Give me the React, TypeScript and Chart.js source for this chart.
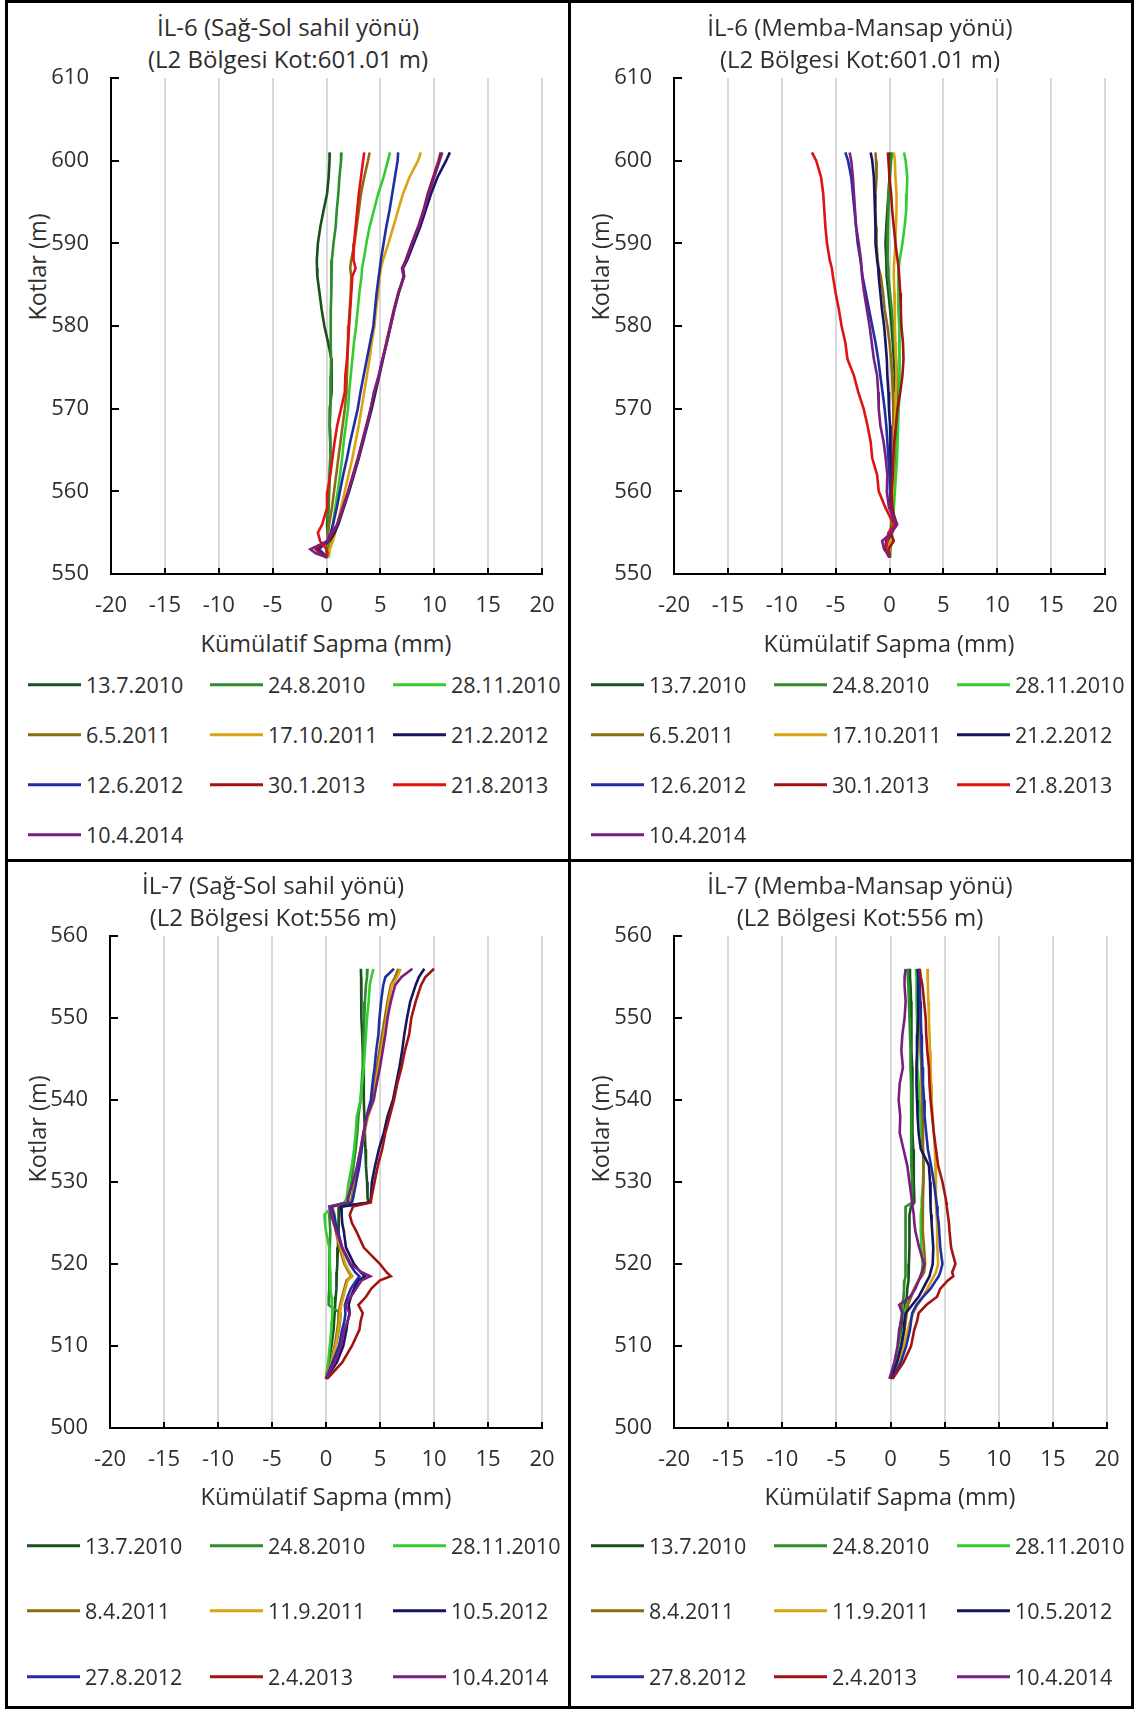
import React, { useEffect, useRef } from 'react';
import { Chart, registerables } from 'chart.js';

Chart.register(...registerables);

const FONT = '"Open Sans", "DejaVu Sans", sans-serif';
const TEXT = '#2e2e2e';

// ---------- axis ticks ----------
const X_TICKS = [-20, -15, -10, -5, 0, 5, 10, 15, 20];
const Y_TICKS_IL6 = [550, 560, 570, 580, 590, 600, 610];
const Y_TICKS_IL7 = [500, 510, 520, 530, 540, 550, 560];

// ---------- colours ----------
const C_DKGREEN = '#1b4f1b';
const C_GREEN = '#2a8f2a';
const C_LTGREEN = '#33cc33';
const C_BROWN = '#8b6a12';
const C_GOLD = '#d9a312';
const C_NAVY = '#151560';
const C_BLUE = '#1f2fa3';
const C_DKRED = '#a01414';
const C_RED = '#e01212';
const C_PURPLE = '#7a1e82';

// ---------- IL-6 ----------
const IL6_ELEV = [601, 600, 598, 596, 594, 592, 590, 588, 587, 586, 584, 582, 580, 578, 576, 574, 572, 570, 568, 566, 564, 562, 560, 558, 556, 555, 554, 553, 552.5, 552];
const IL6_DATES = ['13.7.2010', '24.8.2010', '28.11.2010', '6.5.2011', '17.10.2011', '21.2.2012', '12.6.2012', '30.1.2013', '21.8.2013', '10.4.2014'];
const IL6_COLORS = [C_DKGREEN, C_GREEN, C_LTGREEN, C_BROWN, C_GOLD, C_NAVY, C_BLUE, C_DKRED, C_RED, C_PURPLE];

// Sağ-Sol sahil yönü (mm)
const ss6_13_7_2010 = [0.3, 0.28, 0.2, 0.05, -0.27, -0.57, -0.8, -0.9, -0.88, -0.85, -0.65, -0.45, -0.2, 0.15, 0.45, 0.5, 0.45, 0.3, 0.3, 0.35, 0.35, 0.3, 0.22, 0.15, 0.05, 0.1, 0.15, 0.05, 0, 0];
const ss6_24_8_2010 = [1.4, 1.35, 1.2, 1.1, 0.95, 0.85, 0.65, 0.5, 0.48, 0.45, 0.42, 0.4, 0.38, 0.4, 0.42, 0.4, 0.38, 0.35, 0.3, 0.35, 0.35, 0.3, 0.25, 0.2, 0.15, 0.1, 0.3, 0.1, 0.05, 0.05];
const ss6_28_11_2010 = [5.9, 5.7, 5.3, 4.8, 4.4, 4.0, 3.7, 3.45, 3.3, 3.25, 3.05, 2.9, 2.75, 2.55, 2.4, 2.25, 2.1, 2.0, 1.8, 1.6, 1.45, 1.25, 1.05, 0.8, 0.6, 0.5, 0.4, 0.3, 0.25, 0.2];
const ss6_6_5_2011 = [4.0, 3.85, 3.5, 3.2, 3.0, 2.8, 2.6, 2.3, 2.2, 2.3, 2.25, 2.15, 2.05, 2.0, 1.95, 1.9, 1.85, 1.7, 1.5, 1.3, 1.1, 0.9, 0.7, 0.5, 0.25, 0.15, 0.1, 0, 0, 0];
const ss6_17_10_2011 = [8.75, 8.5, 7.7, 7.1, 6.65, 6.2, 5.75, 5.25, 5.05, 4.95, 4.8, 4.6, 4.45, 4.2, 4.0, 3.75, 3.5, 3.25, 3.0, 2.7, 2.4, 2.05, 1.7, 1.35, 1.0, 0.8, 0.6, 0.3, 0.2, 0.1];
const ss6_21_2_2012 = [11.45, 11.1, 10.3, 9.7, 9.2, 8.7, 8.1, 7.5, 7.1, 7.2, 6.7, 6.3, 5.95, 5.6, 5.25, 4.9, 4.55, 4.2, 3.8, 3.4, 3.0, 2.55, 2.1, 1.6, 1.1, 0.75, 0.3, -0.9, -0.5, 0];
const ss6_12_6_2012 = [6.65, 6.6, 6.35, 6.1, 5.85, 5.55, 5.3, 5.05, 4.95, 4.85, 4.65, 4.5, 4.35, 4.05, 3.75, 3.45, 3.15, 2.9, 2.55, 2.2, 1.9, 1.55, 1.25, 0.95, 0.6, 0.4, 0.1, -0.7, -0.3, 0];
const ss6_30_1_2013 = [10.6, 10.4, 9.9, 9.4, 9.0, 8.5, 7.9, 7.35, 7.05, 7.2, 6.65, 6.25, 5.9, 5.55, 5.2, 4.85, 4.45, 4.1, 3.7, 3.3, 2.9, 2.45, 2.0, 1.5, 1.0, 0.6, 0.2, -1.0, -0.6, 0];
const ss6_21_8_2013 = [3.5, 3.4, 3.2, 3.0, 2.85, 2.7, 2.55, 2.5, 2.7, 2.4, 2.3, 2.2, 2.1, 2.0, 1.9, 1.75, 1.7, 1.35, 1.0, 0.75, 0.55, 0.35, 0.1, 0.05, -0.4, -0.8, -0.6, 0.0, 0.1, 0];
const ss6_10_4_2014 = [10.75, 10.5, 10.0, 9.5, 9.05, 8.55, 7.95, 7.4, 7.0, 7.15, 6.7, 6.3, 5.95, 5.6, 5.2, 4.85, 4.4, 4.1, 3.75, 3.35, 2.95, 2.5, 2.05, 1.55, 1.0, 0.5, 0.1, -1.5, -1.0, 0.1];

// Memba-Mansap yönü (mm)
const mm6_13_7_2010 = [0.1, 0.05, 0, -0.1, -0.2, -0.3, -0.37, -0.3, -0.28, -0.25, -0.1, 0.05, 0.2, 0.3, 0.4, 0.5, 0.55, 0.55, 0.5, 0.45, 0.38, 0.33, 0.3, 0.25, 0.2, 0.15, 0.1, 0.05, 0, 0];
const mm6_24_8_2010 = [0.25, 0.15, 0.05, -0.05, -0.1, -0.15, -0.2, -0.15, -0.12, -0.1, 0.05, 0.2, 0.35, 0.45, 0.6, 0.7, 0.75, 0.75, 0.65, 0.6, 0.5, 0.45, 0.4, 0.3, 0.2, 0.15, 0.1, 0.05, 0, 0];
const mm6_28_11_2010 = [1.35, 1.5, 1.65, 1.6, 1.55, 1.4, 1.2, 0.95, 0.85, 0.8, 0.8, 0.85, 0.9, 0.95, 0.95, 0.95, 0.9, 0.85, 0.8, 0.75, 0.7, 0.6, 0.5, 0.4, 0.3, 0.25, 0.2, 0.1, 0.1, 0.05];
const mm6_6_5_2011 = [-1.3, -1.25, -1.2, -1.3, -1.3, -1.25, -1.2, -1.1, -1.0, -0.8, -0.6, -0.45, -0.2, 0, 0.15, 0.25, 0.3, 0.35, 0.35, 0.4, 0.35, 0.3, 0.3, 0.3, 0.5, 0.2, 0.1, 0, 0, 0];
const mm6_17_10_2011 = [0.4, 0.5, 0.55, 0.65, 0.65, 0.6, 0.55, 0.45, 0.4, 0.4, 0.45, 0.5, 0.5, 0.55, 0.6, 0.65, 0.6, 0.55, 0.5, 0.45, 0.4, 0.35, 0.3, 0.25, 0.4, 0.2, 0.1, 0, 0, 0];
const mm6_21_2_2012 = [-1.75, -1.6, -1.45, -1.4, -1.35, -1.3, -1.3, -1.15, -1.05, -1.0, -0.85, -0.7, -0.5, -0.37, -0.25, -0.2, -0.1, -0.05, 0.05, 0.1, 0.1, 0.1, 0.2, 0.25, 0.5, 0.1, -0.3, -0.4, -0.2, 0];
const mm6_12_6_2012 = [-4.1, -3.85, -3.55, -3.4, -3.25, -3.1, -2.95, -2.7, -2.6, -2.5, -2.2, -1.9, -1.6, -1.3, -1.05, -0.85, -0.65, -0.45, -0.3, -0.2, -0.1, 0, 0.05, 0.1, 0.5, 0.2, -0.2, -0.4, -0.2, 0];
const mm6_30_1_2013 = [-0.15, -0.1, 0, 0.15, 0.25, 0.4, 0.55, 0.75, 0.85, 0.9, 1.0, 1.05, 1.1, 1.25, 1.3, 1.2, 1.0, 0.75, 0.6, 0.45, 0.35, 0.3, 0.2, 0.2, 0.7, 0.1, 0.4, -0.1, 0, 0];
const mm6_21_8_2013 = [-7.2, -6.8, -6.35, -6.15, -6.05, -5.95, -5.8, -5.55, -5.35, -5.25, -5.0, -4.7, -4.45, -4.1, -3.9, -3.3, -2.9, -2.4, -2.05, -1.75, -1.6, -1.15, -1.0, -0.37, 0.4, -0.1, -0.2, -0.3, -0.1, 0];
const mm6_10_4_2014 = [-3.7, -3.55, -3.4, -3.3, -3.2, -3.1, -2.85, -2.65, -2.6, -2.55, -2.35, -2.1, -1.85, -1.65, -1.45, -1.15, -1.05, -1.0, -0.85, -0.55, -0.35, -0.2, -0.25, -0.05, 0.7, 0.2, -0.68, -0.5, -0.2, 0];

// ---------- IL-7 ----------
const IL7_ELEV = [556, 555, 554, 552, 550, 548, 546, 544, 542, 540, 538, 536, 534, 532, 530, 528, 527.5, 527, 526, 525, 524, 522, 520, 519, 518.5, 518, 517, 516, 515, 514, 513, 512, 510, 508, 506];
const IL7_DATES = ['13.7.2010', '24.8.2010', '28.11.2010', '8.4.2011', '11.9.2011', '10.5.2012', '27.8.2012', '2.4.2013', '10.4.2014'];
const IL7_COLORS = [C_DKGREEN, C_GREEN, C_LTGREEN, C_BROWN, C_GOLD, C_NAVY, C_BLUE, C_DKRED, C_PURPLE];

// Sağ-Sol sahil yönü (mm)
const ss7_13_7_2010 = [3.23, 3.25, 3.25, 3.28, 3.3, 3.35, 3.4, 3.45, 3.5, 3.5, 3.55, 3.6, 3.65, 3.7, 3.8, 3.85, 3.95, 1.2, 1.2, 1.15, 1.15, 1.1, 1.05, 1.0, 1.0, 0.95, 0.95, 0.9, 0.85, 0.8, 0.75, 0.7, 0.5, 0.25, 0];
const ss7_24_8_2010 = [3.85, 3.8, 3.7, 3.6, 3.55, 3.5, 3.45, 3.4, 3.3, 3.2, 3.0, 2.9, 2.75, 2.55, 2.35, 2.1, 1.8, 0.4, 0.3, 0.35, 0.4, 0.35, 0.3, 0.3, 0.3, 0.3, 0.3, 0.25, 0.25, 1.35, 1.3, 1.2, 0.9, 0.5, 0];
const ss7_28_11_2010 = [4.4, 4.2, 4.05, 3.95, 3.8, 3.7, 3.6, 3.5, 3.35, 3.2, 2.85, 2.75, 2.6, 2.4, 2.1, 1.9, 1.7, 0.6, -0.15, -0.1, 0.0, 0.3, 0.35, 0.4, 0.4, 0.4, 0.45, 0.5, 0.55, 0.6, 0.55, 0.5, 0.35, 0.2, 0];
const ss7_8_4_2011 = [6.7, 6.4, 6.0, 5.7, 5.45, 5.2, 4.95, 4.7, 4.5, 4.3, 3.8, 3.45, 3.2, 2.9, 2.6, 2.4, 2.2, 0.55, 0.75, 0.8, 0.9, 1.25, 1.7, 2.1, 2.35, 1.9, 1.7, 1.5, 1.3, 1.2, 1.15, 1.05, 0.8, 0.45, 0];
const ss7_11_9_2011 = [6.9, 6.6, 6.1, 5.8, 5.6, 5.35, 5.1, 4.85, 4.6, 4.45, 3.9, 3.55, 3.3, 3.0, 2.7, 2.5, 2.3, 0.6, 0.8, 0.85, 0.95, 1.35, 1.8, 2.2, 2.45, 2.0, 1.8, 1.6, 1.4, 1.3, 1.25, 1.15, 0.9, 0.5, 0];
const ss7_10_5_2012 = [9.1, 8.6, 8.3, 7.8, 7.5, 7.25, 7.05, 6.8, 6.5, 6.2, 5.7, 5.35, 4.9, 4.55, 4.25, 4.15, 4.05, 1.4, 1.45, 1.5, 1.65, 1.85, 2.6, 3.2, 3.6, 3.0, 2.6, 2.3, 2.1, 2.2, 2.0, 1.9, 1.6, 1.0, 0];
const ss7_27_8_2012 = [6.3, 5.5, 5.3, 5.1, 4.95, 4.85, 4.65, 4.5, 4.3, 4.15, 3.75, 3.5, 3.3, 3.1, 2.8, 2.5, 2.4, 0.5, 0.75, 0.9, 1.1, 1.5, 2.2, 2.7, 3.1, 2.8, 2.3, 2.0, 1.75, 1.8, 1.7, 1.5, 1.2, 0.6, 0];
const ss7_2_4_2013 = [10.0, 9.2, 8.8, 8.3, 7.9, 7.7, 7.3, 7.0, 6.6, 6.3, 5.9, 5.5, 5.2, 4.8, 4.5, 4.2, 4.15, 2.5, 2.2, 2.4, 2.8, 3.5, 5.0, 5.6, 6.0, 5.0, 4.2, 3.7, 3.0, 3.4, 3.2, 3.1, 2.4, 1.5, 0.1];
const ss7_10_4_2014 = [8.0, 7.0, 6.4, 6.0, 5.7, 5.5, 5.25, 5.0, 4.7, 4.4, 3.8, 3.5, 3.2, 2.9, 2.5, 2.0, 2.05, 0.3, 0.5, 0.7, 0.95, 1.5, 2.3, 3.3, 4.1, 3.3, 2.8, 2.3, 1.8, 2.2, 2.0, 1.7, 1.4, 0.8, 0];

// Memba-Mansap yönü (mm)
const mm7_13_7_2010 = [1.8, 1.8, 1.85, 1.9, 1.9, 1.95, 1.95, 2.0, 2.0, 2.0, 2.05, 2.05, 2.1, 2.15, 2.15, 2.2, 2.2, 1.9, 1.75, 1.75, 1.75, 1.75, 1.7, 1.7, 1.65, 1.65, 1.55, 1.5, 1.35, 1.25, 1.15, 1.05, 0.8, 0.5, 0];
const mm7_24_8_2010 = [1.55, 1.6, 1.65, 1.7, 1.75, 1.8, 1.85, 1.85, 1.9, 1.9, 1.9, 1.9, 1.95, 1.95, 2.0, 2.0, 2.0, 1.4, 1.4, 1.4, 1.4, 1.4, 1.4, 1.35, 1.35, 1.3, 1.25, 1.2, 1.1, 1.05, 0.95, 0.9, 0.7, 0.4, 0];
const mm7_28_11_2010 = [2.35, 2.4, 2.4, 2.4, 2.45, 2.45, 2.5, 2.5, 2.6, 2.65, 2.75, 2.85, 3.0, 3.05, 3.0, 2.9, 2.9, 2.85, 2.8, 2.8, 2.8, 2.85, 2.95, 2.9, 2.8, 2.6, 2.2, 1.9, 1.5, 1.3, 1.25, 1.2, 0.9, 0.55, 0];
const mm7_8_4_2011 = [2.6, 2.6, 2.65, 2.7, 2.75, 2.75, 2.8, 2.85, 2.9, 2.9, 2.95, 3.0, 3.0, 3.05, 3.05, 3.0, 3.0, 2.95, 2.95, 3.0, 3.0, 3.1, 3.2, 3.1, 2.9, 2.6, 2.2, 1.9, 1.6, 1.5, 1.4, 1.3, 1.0, 0.6, 0];
const mm7_11_9_2011 = [3.4, 3.45, 3.45, 3.5, 3.55, 3.6, 3.65, 3.7, 3.75, 3.8, 3.9, 4.0, 4.1, 4.15, 4.2, 4.2, 4.2, 4.2, 4.25, 4.3, 4.3, 4.35, 4.4, 4.2, 4.0, 3.8, 3.4, 3.0, 2.5, 2.1, 1.8, 1.6, 1.2, 0.75, 0];
const mm7_10_5_2012 = [2.5, 2.55, 2.55, 2.55, 2.55, 2.5, 2.45, 2.4, 2.4, 2.45, 2.5, 2.6, 2.8, 3.55, 3.65, 3.7, 3.7, 3.7, 3.75, 3.8, 3.85, 3.95, 3.9, 3.7, 3.6, 3.4, 3.0, 2.6, 2.0, 1.4, 1.3, 1.25, 1.0, 0.6, 0];
const mm7_27_8_2012 = [2.6, 2.65, 2.7, 2.75, 2.8, 2.85, 2.9, 2.95, 3.0, 3.1, 3.15, 3.3, 3.45, 3.75, 4.0, 4.2, 4.25, 4.3, 4.35, 4.45, 4.5, 4.6, 4.8, 4.6, 4.45, 4.2, 3.7, 3.0, 2.4, 2.0, 1.9, 1.8, 1.45, 0.95, 0.15];
const mm7_2_4_2013 = [2.7, 2.8, 2.95, 3.1, 3.25, 3.3, 3.4, 3.55, 3.6, 3.7, 3.85, 4.0, 4.2, 4.4, 4.8, 5.1, 5.15, 5.2, 5.3, 5.4, 5.45, 5.6, 6.0, 5.7, 5.8, 5.3, 4.6, 4.3, 3.3, 2.6, 2.45, 2.2, 1.9, 1.2, 0.2];
const mm7_10_4_2014 = [1.4, 1.3, 1.3, 1.4, 1.3, 1.1, 1.0, 1.15, 0.85, 0.75, 0.9, 0.85, 1.2, 1.55, 1.75, 1.95, 2.0, 2.05, 2.15, 2.2, 2.3, 2.65, 3.1, 2.9, 2.75, 2.6, 2.3, 1.8, 0.8, 1.1, 1.0, 0.8, 0.65, 0.35, -0.1];

const IL6_SS = [ss6_13_7_2010, ss6_24_8_2010, ss6_28_11_2010, ss6_6_5_2011, ss6_17_10_2011, ss6_21_2_2012, ss6_12_6_2012, ss6_30_1_2013, ss6_21_8_2013, ss6_10_4_2014];
const IL6_MM = [mm6_13_7_2010, mm6_24_8_2010, mm6_28_11_2010, mm6_6_5_2011, mm6_17_10_2011, mm6_21_2_2012, mm6_12_6_2012, mm6_30_1_2013, mm6_21_8_2013, mm6_10_4_2014];
const IL7_SS = [ss7_13_7_2010, ss7_24_8_2010, ss7_28_11_2010, ss7_8_4_2011, ss7_11_9_2011, ss7_10_5_2012, ss7_27_8_2012, ss7_2_4_2013, ss7_10_4_2014];
const IL7_MM = [mm7_13_7_2010, mm7_24_8_2010, mm7_28_11_2010, mm7_8_4_2011, mm7_11_9_2011, mm7_10_5_2012, mm7_27_8_2012, mm7_2_4_2013, mm7_10_4_2014];

const X_TITLE = 'Kümülatif Sapma (mm)';
const Y_TITLE = 'Kotlar (m)';

// layout constants for the canvas around the plot area
const YW = 92;
const PADT = 44;
const PADR = 44;
const XH = 62;

type Rect = { l: number; t: number; r: number; b: number };

const innerTicks = {
  id: 'innerTicks',
  afterDraw(chart: any) {
    const { ctx, chartArea, scales } = chart;
    ctx.save();
    ctx.strokeStyle = '#000';
    ctx.lineWidth = 2;
    scales.x.ticks.forEach((t: any) => {
      const x = Math.round(scales.x.getPixelForValue(t.value));
      ctx.beginPath();
      ctx.moveTo(x, chartArea.bottom);
      ctx.lineTo(x, chartArea.bottom - 6);
      ctx.stroke();
    });
    scales.y.ticks.forEach((t: any) => {
      const y = Math.round(scales.y.getPixelForValue(t.value));
      ctx.beginPath();
      ctx.moveTo(chartArea.left, y);
      ctx.lineTo(chartArea.left + 8, y);
      ctx.stroke();
    });
    ctx.restore();
  },
};

function ProfileChart(props: { plot: Rect; elev: number[]; series: number[][]; dates: string[]; colors: string[]; yTicks: number[] }) {
  const ref = useRef<HTMLCanvasElement>(null);
  const { plot, elev, series, dates, colors, yTicks } = props;
  const cl = plot.l - YW;
  const ct = plot.t - PADT;
  const cw = plot.r - plot.l + YW + PADR;
  const chh = plot.b - plot.t + PADT + XH;

  useEffect(() => {
    if (!ref.current) return;
    const n = series.length;
    const chart = new Chart(ref.current, {
      type: 'scatter',
      data: {
        datasets: series.map((vals, i) => ({
          label: dates[i],
          data: vals.map((v, k) => ({ x: v, y: elev[k] })),
          showLine: true,
          borderColor: colors[i],
          backgroundColor: colors[i],
          borderWidth: 2.6,
          pointRadius: 0,
          pointHoverRadius: 0,
          tension: 0,
          fill: false,
          order: n - i,
        })),
      },
      options: {
        responsive: false,
        maintainAspectRatio: false,
        animation: false,
        events: [],
        layout: { padding: { left: 0, top: PADT, right: PADR, bottom: 0 } },
        plugins: { legend: { display: false }, tooltip: { enabled: false }, title: { display: false } },
        scales: {
          x: {
            type: 'linear',
            position: 'bottom',
            min: X_TICKS[0],
            max: X_TICKS[X_TICKS.length - 1],
            afterBuildTicks: (s: any) => {
              s.ticks = X_TICKS.map((v) => ({ value: v }));
            },
            afterFit: (s: any) => {
              s.height = XH;
            },
            grid: {
              display: true,
              drawTicks: false,
              lineWidth: 2,
              color: (c: any) => (c.tick && c.tick.value === X_TICKS[0] ? 'rgba(0,0,0,0)' : '#d9d9d9'),
            },
            border: { display: true, color: '#000', width: 2 },
            ticks: { font: { family: FONT, size: 22 }, color: TEXT, padding: 19, maxRotation: 0, autoSkip: false },
          },
          y: {
            type: 'linear',
            position: 'left',
            min: yTicks[0],
            max: yTicks[yTicks.length - 1],
            afterBuildTicks: (s: any) => {
              s.ticks = yTicks.map((v) => ({ value: v }));
            },
            afterFit: (s: any) => {
              s.width = YW;
            },
            grid: { display: false, drawTicks: false },
            border: { display: true, color: '#000', width: 2 },
            ticks: { font: { family: FONT, size: 22 }, color: TEXT, padding: 22, autoSkip: false },
          },
        },
      },
      plugins: [innerTicks],
    } as any);
    return () => chart.destroy();
  }, []);

  return (
    <canvas
      ref={ref}
      width={cw}
      height={chh}
      style={{ position: 'absolute', left: cl, top: ct, width: cw, height: chh }}
    />
  );
}

type PanelDef = {
  box: { l: number; t: number; w: number; h: number };
  plot: Rect;
  title1: string;
  title2: string;
  titleX: number;
  titleY: [number, number];
  yTitle: [number, number];
  xTitle: [number, number];
  legendCols: number[];
  legendRows: number[];
  elev: number[];
  series: number[][];
  dates: string[];
  colors: string[];
  yTicks: number[];
};

const PANELS: PanelDef[] = [
  {
    box: { l: 5, t: 0, w: 566, h: 862 },
    plot: { l: 111, t: 78, r: 542, b: 574 },
    title1: 'İL-6 (Sağ-Sol sahil yönü)',
    title2: '(L2 Bölgesi Kot:601.01 m)',
    titleX: 288,
    titleY: [27, 59],
    yTitle: [38, 267],
    xTitle: [326, 644],
    legendCols: [28, 210, 393],
    legendRows: [685, 735, 785, 835],
    elev: IL6_ELEV,
    series: IL6_SS,
    dates: IL6_DATES,
    colors: IL6_COLORS,
    yTicks: Y_TICKS_IL6,
  },
  {
    box: { l: 568, t: 0, w: 566, h: 862 },
    plot: { l: 674, t: 78, r: 1105, b: 574 },
    title1: 'İL-6 (Memba-Mansap yönü)',
    title2: '(L2 Bölgesi Kot:601.01 m)',
    titleX: 860,
    titleY: [27, 59],
    yTitle: [601, 267],
    xTitle: [889, 644],
    legendCols: [591, 774, 957],
    legendRows: [685, 735, 785, 835],
    elev: IL6_ELEV,
    series: IL6_MM,
    dates: IL6_DATES,
    colors: IL6_COLORS,
    yTicks: Y_TICKS_IL6,
  },
  {
    box: { l: 5, t: 859, w: 566, h: 850 },
    plot: { l: 110, t: 936, r: 542, b: 1428 },
    title1: 'İL-7 (Sağ-Sol sahil yönü)',
    title2: '(L2 Bölgesi Kot:556 m)',
    titleX: 273,
    titleY: [885, 917],
    yTitle: [38, 1129],
    xTitle: [326, 1497],
    legendCols: [27, 210, 393],
    legendRows: [1546, 1611, 1677],
    elev: IL7_ELEV,
    series: IL7_SS,
    dates: IL7_DATES,
    colors: IL7_COLORS,
    yTicks: Y_TICKS_IL7,
  },
  {
    box: { l: 568, t: 859, w: 566, h: 850 },
    plot: { l: 674, t: 936, r: 1107, b: 1428 },
    title1: 'İL-7 (Memba-Mansap yönü)',
    title2: '(L2 Bölgesi Kot:556 m)',
    titleX: 860,
    titleY: [885, 917],
    yTitle: [601, 1129],
    xTitle: [890, 1497],
    legendCols: [591, 774, 957],
    legendRows: [1546, 1611, 1677],
    elev: IL7_ELEV,
    series: IL7_MM,
    dates: IL7_DATES,
    colors: IL7_COLORS,
    yTicks: Y_TICKS_IL7,
  },
];

const centered = (x: number, y: number, size: number, extra: React.CSSProperties = {}): React.CSSProperties => ({
  position: 'absolute',
  left: x,
  top: y,
  transform: 'translate(-50%, -50%)',
  fontFamily: FONT,
  fontSize: size,
  color: TEXT,
  whiteSpace: 'nowrap',
  lineHeight: 1,
  ...extra,
});

function Panel({ p }: { p: PanelDef }) {
  return (
    <>
      <div
        style={{
          position: 'absolute',
          left: p.box.l,
          top: p.box.t,
          width: p.box.w,
          height: p.box.h,
          border: '3px solid #000',
          boxSizing: 'border-box',
        }}
      />
      <div style={centered(p.titleX, p.titleY[0], 24)}>{p.title1}</div>
      <div style={centered(p.titleX, p.titleY[1], 24)}>{p.title2}</div>
      <div style={centered(p.yTitle[0], p.yTitle[1], 23.5, { transform: 'translate(-50%, -50%) rotate(-90deg)' })}>{Y_TITLE}</div>
      <div style={centered(p.xTitle[0], p.xTitle[1], 23.5)}>{X_TITLE}</div>
      <ProfileChart plot={p.plot} elev={p.elev} series={p.series} dates={p.dates} colors={p.colors} yTicks={p.yTicks} />
      {p.dates.map((d, i) => {
        const col = i % 3;
        const row = Math.floor(i / 3);
        return (
          <div
            key={d + i}
            style={{
              position: 'absolute',
              left: p.legendCols[col],
              top: p.legendRows[row],
              transform: 'translateY(-50%)',
              display: 'flex',
              alignItems: 'center',
              fontFamily: FONT,
              fontSize: 21.5,
              color: TEXT,
              whiteSpace: 'nowrap',
              lineHeight: 1,
            }}
          >
            <span style={{ display: 'inline-block', width: 53, height: 3, background: p.colors[i] }} />
            <span style={{ marginLeft: 5 }}>{d}</span>
          </div>
        );
      })}
    </>
  );
}

export default function App() {
  return (
    <div style={{ position: 'absolute', left: 0, top: 0, width: 1134, height: 1709, background: '#fff', overflow: 'hidden' }}>
      {PANELS.map((p, i) => (
        <Panel key={i} p={p} />
      ))}
    </div>
  );
}
